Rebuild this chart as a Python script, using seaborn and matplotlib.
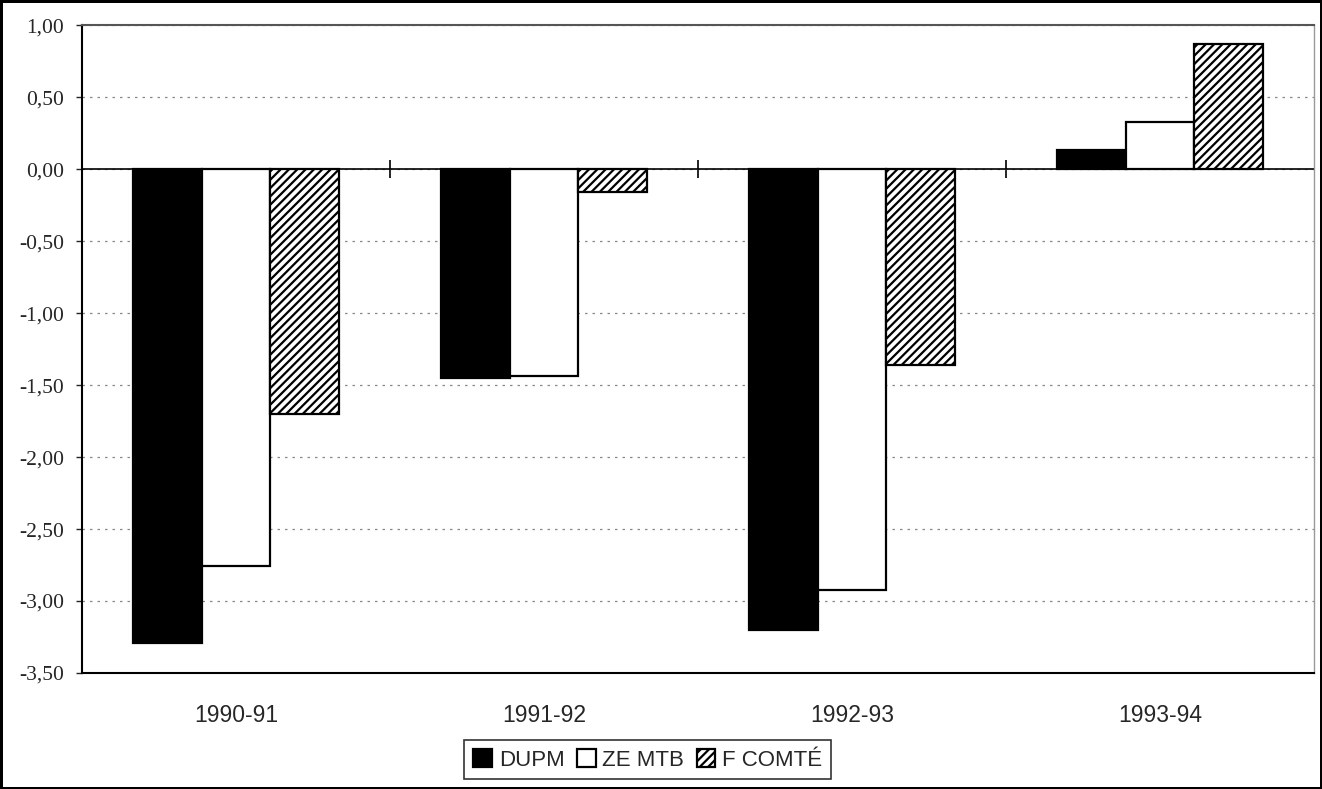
import matplotlib
matplotlib.use("Agg")
import matplotlib.pyplot as plt
import seaborn as sns
import pandas as pd
from matplotlib.ticker import FuncFormatter, MultipleLocator

periodes = ["1990-91", "1991-92", "1992-93", "1993-94"]
series = ["DUPM", "ZE MTB", "F COMTÉ"]
dupm = [-3.29, -1.45, -3.20, 0.13]
ze_mtb = [-2.76, -1.44, -2.92, 0.33]
f_comte = [-1.70, -0.16, -1.36, 0.87]

df = pd.DataFrame({
    "periode": periodes * 3,
    "serie": [s for s in series for _ in periodes],
    "valeur": dupm + ze_mtb + f_comte,
})

sns.set_style("white")
plt.rcParams["hatch.linewidth"] = 1.6

fig = plt.figure(figsize=(13.22, 7.89), dpi=100)
fig.patch.set_edgecolor("black")
fig.patch.set_linewidth(2.5)
ax = fig.add_axes([0.062, 0.147, 0.932, 0.821])

sns.barplot(data=df, x="periode", y="valeur", hue="serie", hue_order=series,
            palette=["black", "white", "white"], saturation=1, width=0.67, gap=0,
            edgecolor="black", linewidth=1.6, errorbar=None, legend=False, ax=ax)
for bar in ax.containers[2]:
    bar.set_hatch("////")

ax.set_xlim(-0.5, 3.5)
ax.set_ylim(-3.5, 1.0)
ax.set_xlabel("")
ax.set_ylabel("")

# grille pointillee et axe zero
ax.yaxis.set_major_locator(MultipleLocator(0.5))
ax.yaxis.grid(True, linestyle=(0, (2, 4)), color="#888888", linewidth=0.9)
ax.set_axisbelow(True)
ax.axhline(0, color="black", linewidth=1.2, zorder=1)

ax.yaxis.set_major_formatter(FuncFormatter(lambda v, p: f"{v:.2f}".replace(".", ",")))
ax.tick_params(axis="y", left=True, direction="out", length=4, width=1, pad=9,
               labelsize=15.5, labelfontfamily="Liberation Serif")
ax.tick_params(axis="x", bottom=False, pad=19, labelsize=16.5,
               labelfontfamily="Liberation Sans")

for side in ["left", "bottom"]:
    ax.spines[side].set_color("black")
    ax.spines[side].set_linewidth(1.5)
ax.spines["top"].set_color("#555555")
ax.spines["top"].set_linewidth(1.5)
ax.spines["right"].set_color("#999999")
ax.spines["right"].set_linewidth(1.0)

# separateurs de categories sur l'axe zero
y0, y1 = ax.get_ylim()
sec = ax.secondary_xaxis((0 - y0) / (y1 - y0))
sec.set_xticks([0.5, 1.5, 2.5], labels=["", "", ""])
sec.tick_params(direction="inout", length=13, width=1.2, color="black")
sec.spines["bottom"].set_visible(False)
sec.spines["top"].set_visible(False)

leg = fig.legend(ax.containers, series, loc="center", bbox_to_anchor=(0.49, 0.037),
                 ncol=3, frameon=True, fancybox=False, edgecolor="black",
                 handlelength=0.85, handleheight=0.85, handletextpad=0.3,
                 columnspacing=0.55, borderpad=0.4,
                 prop={"family": "Liberation Sans", "size": 16})
leg.get_frame().set_linewidth(1.2)

fig.savefig("out.png", dpi=100, facecolor="white", edgecolor="black")
